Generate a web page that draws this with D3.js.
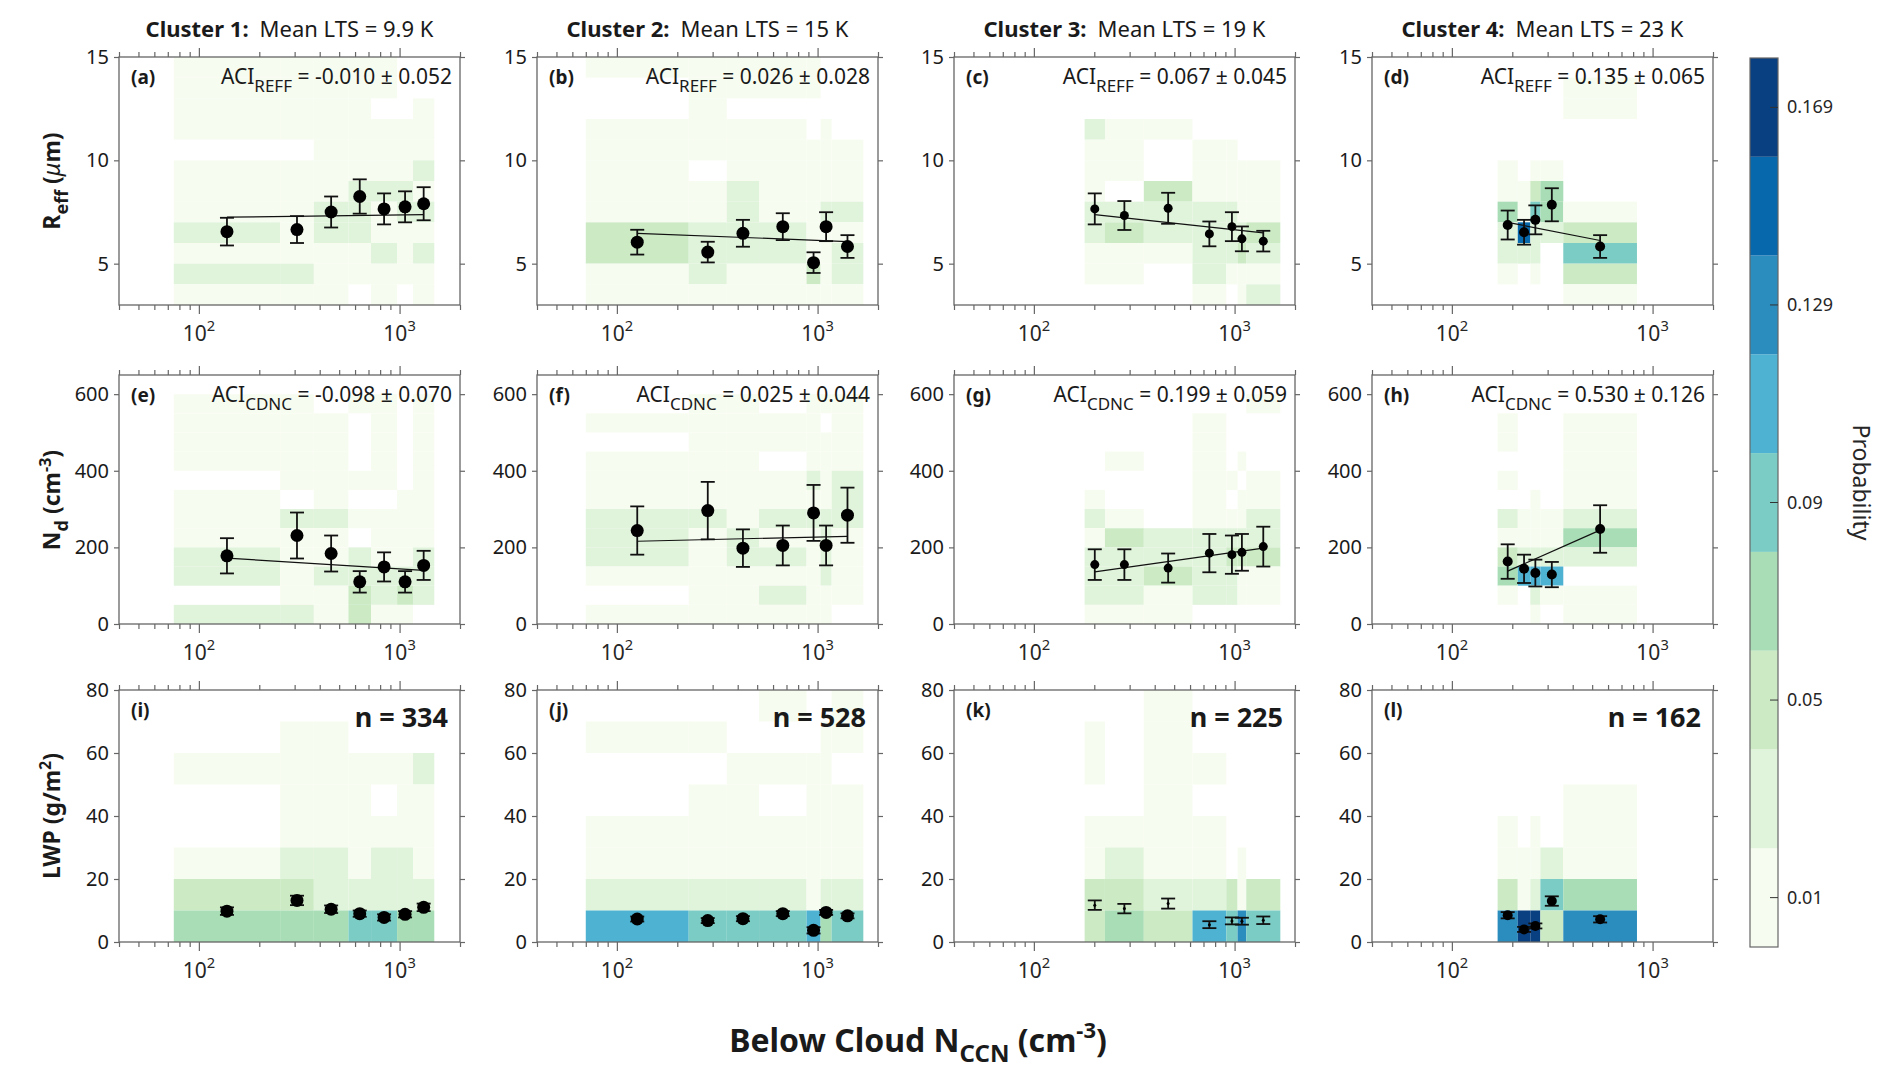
<!DOCTYPE html>
<html>
<head>
<meta charset="utf-8">
<script src="https://cdn.jsdelivr.net/npm/d3@7"></script>
<style>
body { margin: 0; background: #fff; }
text { font-family: "Noto Sans", "Open Sans", sans-serif; fill: #1a1a1a; }
</style>
</head>
<body>
<script>
// ---- data ----
const clusterNames = ["Cluster 1:", "Cluster 2:", "Cluster 3:", "Cluster 4:"]
const meanLTS = ["9.9 K", "15 K", "19 K", "23 K"]
const sampleN = [334, 528, 225, 162]
const aciReff = ["-0.010 \u00b1 0.052", "0.026 \u00b1 0.028", "0.067 \u00b1 0.045", "0.135 \u00b1 0.065"]
const aciCdnc = ["-0.098 \u00b1 0.070", "0.025 \u00b1 0.044", "0.199 \u00b1 0.059", "0.530 \u00b1 0.126"]
const panelLetters = ["a", "b", "c", "d", "e", "f", "g", "h", "i", "j", "k", "l"]

// NCCN bin edges per cluster (cm-3)
const binEdges = [
  [75, 254, 374, 556, 721, 972, 1167, 1489],
  [70, 228, 353, 511, 881, 1035, 1175, 1690],
  [179, 226, 353, 617, 909, 1035, 1143, 1690],
  [169, 213, 246, 276, 359, 836]
]

// probability levels (0..8 -> 0.01, 0.03, ... 0.17), '.' = no data; rows listed top to bottom
const reffGrid = [
  ["00000..", "00000..", "0000..0", "0000000", "..00000", "0000001", "0001110", "0011011", "1011000", "0000101", "1100000", "000.0.0"],
  ["00000..", ".0000..", ".0.....", "0000.0.", "0000000", "0.00000", "0010000", "0010011", "2111000", "2111001", "0100201", "0000000"],
  [".......", ".......", ".......", "100....", "00.00..", "00.0000", "0.20000", "1111100", "1211112", "0001121", "00.1000", "...0.01"],
  [".....", "....0", "....0", ".....", ".....", "0.00.", "0023.", "30430", "17112", "111.4", "0.0.2", "....0"]
]
const ndGrid = [
  ["00.00.0", "000.0.0", "000.0.0", "000.0.0", ".0000.0", "0.0..00", "0110000", "000.000", "1001001", "1011111", ".002121", "110200."],
  [".00.000", "00000.0", ".000000", "000.000", "0000101", "0000001", "1101111", "1010010", "1011010", "0000010", ".001000", "000000."],
  ["......0", "...0...", "...0...", ".0.0.0.", "...00.0", "0..0.00", "10.0001", "0211111", "1111222", "1121100", "1101100", "000...."],
  [".....", "0...0", "0...0", "....0", "0...0", "..0.0", "10001", "00003", "21111", "3555.", "0.100", "..0.0"]
]
const lwpGrid = [
  [".......", ".00....", "0000001", ".000.00", ".000000", "0110110", "2211111", "3334433"],
  ["...0..0", "00...00", "..0000.", ".00.000", "0000000", "0000000", "1111011", "5444534"],
  ["..0....", "0.0....", "0.00...", "..0....", "0000...", "0100.0.", "2211202", "2325464"],
  [".....", ".....", ".....", "....0", "0.0.0", "00010", "20143", "68826"]
]

// binned means, error half-widths and fit-line end values
const reffMean = [[6.55, 6.65, 7.5, 8.25, 7.65, 7.75, 7.9], [6.04, 5.56, 6.47, 6.79, 5.05, 6.79, 5.83], [7.65, 7.33, 7.68, 6.44, 6.79, 6.2, 6.09], [6.87, 6.52, 7.12, 7.85, 5.83]]
const reffErr = [[0.67, 0.65, 0.75, 0.83, 0.75, 0.75, 0.8], [0.6, 0.5, 0.65, 0.65, 0.5, 0.7, 0.55], [0.75, 0.7, 0.75, 0.6, 0.7, 0.6, 0.5], [0.7, 0.6, 0.7, 0.8, 0.55]]
const reffFit = [[7.25, 7.37], [6.47, 6.07], [7.37, 6.49], [7.0, 6.12]]
const ndMean = [[178, 231, 184, 110, 149, 110, 153], [244, 296, 198, 205, 290, 205, 284], [155, 155, 146, 185, 181, 187, 202], [163, 144, 133, 129, 248]]
const ndErr = [[46, 60, 47, 28, 38, 28, 38], [63, 75, 49, 52, 73, 52, 72], [40, 40, 38, 50, 50, 48, 52], [45, 37, 35, 33, 62]]
const ndFit = [[172, 140], [216, 229], [136, 198], [138, 245]]
const lwpMean = [[9.8, 13.2, 10.4, 9.0, 7.8, 8.8, 11.0], [7.3, 6.8, 7.4, 9.0, 3.7, 9.4, 8.3], [11.7, 10.6, 12.2, 5.5, 6.7, 6.6, 6.9], [8.5, 4.0, 5.1, 13, 7.2]]
const lwpErr = [[1.2, 1.5, 1.2, 1, 1, 1, 1.2], [0.8, 0.8, 0.8, 0.8, 1, 0.8, 0.8], [1.5, 1.5, 1.6, 1.1, 1.1, 1.1, 1.2], [1, 0.8, 0.8, 1.5, 1]]

const cbTicks = [0.01, 0.05, 0.09, 0.129, 0.169]
const gnbu = ["#f7fcf0", "#e0f3db", "#ccebc5", "#a8ddb5", "#7bccc4", "#4eb3d3", "#2b8cbe", "#0868ac", "#084081"]

// ---- layout ----
const W = 1892, H = 1091
const colX = [119, 537, 954, 1372], pw = 341
const rows = [
  { top: 57, bot: 305, dom: [3, 15], ticks: [5, 10, 15], bin: 1, grid: reffGrid, mean: reffMean, err: reffErr, fit: reffFit },
  { top: 375, bot: 624, dom: [0, 650], ticks: [0, 200, 400, 600], bin: 50, grid: ndGrid, mean: ndMean, err: ndErr, fit: ndFit },
  { top: 690, bot: 942, dom: [0, 80], ticks: [0, 20, 40, 60, 80], bin: 10, grid: lwpGrid, mean: lwpMean, err: lwpErr, fit: null }
]
const markerR = [6.5, 6.5, 4.5, 5]
const probColor = d3.scaleQuantize([0, 0.18], gnbu)
const axisCol = "#666"

const svg = d3.select("body").append("svg").attr("width", W).attr("height", H)

function supText(sel, base, sup) {
  sel.append("tspan").text(base)
  sel.append("tspan").attr("dy", -10).attr("font-size", "0.7em").text(sup)
}

rows.forEach((r, ri) => {
  colX.forEach((x0, ci) => {
    const x = d3.scaleLog([40, 2000], [x0, x0 + pw])
    const y = d3.scaleLinear(r.dom, [r.bot, r.top])
    const g = svg.append("g")
    const edges = binEdges[ci]
    const grid = r.grid[ci]
    const topVal = r.dom[0] + grid.length * r.bin
    grid.forEach((row, k) => {
      const hi = topVal - k * r.bin, lo = hi - r.bin
      row.split("").forEach((c, j) => {
        if (c === ".") return
        const p = +c * 0.02 + 0.01
        g.append("rect").attr("x", x(edges[j])).attr("width", x(edges[j + 1]) - x(edges[j]))
          .attr("y", y(hi)).attr("height", y(lo) - y(hi)).attr("fill", probColor(p))
      })
    })
    g.append("rect").attr("x", x0).attr("y", r.top).attr("width", pw).attr("height", r.bot - r.top)
      .attr("fill", "none").attr("stroke", axisCol).attr("stroke-width", 1.3)
    const xt = x.ticks().filter(v => v >= 40 && v <= 2000)
    const bottom = g.append("g").attr("transform", `translate(0,${r.bot})`)
      .call(d3.axisBottom(x).tickValues(xt).tickSize(5).tickFormat(""))
    const top = g.append("g").attr("transform", `translate(0,${r.top})`)
      .call(d3.axisTop(x).tickValues(xt).tickSize(5).tickFormat(""))
    ;[bottom, top].forEach(a => {
      a.select(".domain").remove()
      a.selectAll(".tick line").attr("stroke", axisCol).attr("stroke-width", 1.2)
        .attr("y2", d => (Math.log10(d) % 1 === 0 ? 9 : 5) * (a === top ? -1 : 1))
    })
    const left = g.append("g").attr("transform", `translate(${x0},0)`)
      .call(d3.axisLeft(y).tickValues(r.ticks).tickSize(5).tickPadding(5))
    const right = g.append("g").attr("transform", `translate(${x0 + pw},0)`)
      .call(d3.axisRight(y).tickValues(r.ticks).tickSize(5).tickFormat(""))
    ;[left, right].forEach(a => {
      a.select(".domain").remove()
      a.selectAll(".tick line").attr("stroke", axisCol).attr("stroke-width", 1.2)
    })
    left.selectAll(".tick text").attr("font-size", 20).attr("fill", "#262626").style("font-family", "Noto Sans")
    ;[100, 1000].forEach(v => {
      const t = g.append("text").attr("x", x(v)).attr("y", r.bot + 36).attr("text-anchor", "middle")
        .attr("font-size", 21).style("fill", "#262626")
      supText(t, "10", Math.log10(v))
    })
    const xc = edges.slice(1).map((e, j) => Math.sqrt(e * edges[j]))
    if (r.fit) {
      g.append("line").attr("x1", x(xc[0])).attr("x2", x(xc[xc.length - 1]))
        .attr("y1", y(r.fit[ci][0])).attr("y2", y(r.fit[ci][1])).attr("stroke", "#111").attr("stroke-width", 1.2)
    }
    const rad = ri === 2 && ci === 2 ? 1.5 : markerR[ci]
    r.mean[ci].forEach((m, j) => {
      const e = r.err[ci][j], cx = x(xc[j])
      g.append("line").attr("x1", cx).attr("x2", cx).attr("y1", y(m - e)).attr("y2", y(m + e)).attr("stroke", "#111").attr("stroke-width", 1.8)
      ;[m - e, m + e].forEach(v => g.append("line").attr("x1", cx - 7).attr("x2", cx + 7).attr("y1", y(v)).attr("y2", y(v)).attr("stroke", "#111").attr("stroke-width", 1.8))
      g.append("circle").attr("cx", cx).attr("cy", y(m)).attr("r", rad).attr("fill", "#000")
    })
    g.append("text").attr("x", x0 + 12).attr("y", r.top + 27).attr("font-size", 19).attr("font-weight", "bold")
      .text(`(${panelLetters[ri * 4 + ci]})`)
    if (ri < 2) {
      const t = g.append("text").attr("x", x0 + pw - 8).attr("y", r.top + 27).attr("text-anchor", "end").attr("font-size", 21)
      t.append("tspan").text("ACI")
      t.append("tspan").attr("dy", 8).attr("font-size", 17).text(ri === 0 ? "REFF" : "CDNC")
      t.append("tspan").attr("dy", -8).text(" = " + (ri === 0 ? aciReff[ci] : aciCdnc[ci]))
    } else {
      g.append("text").attr("x", x0 + pw - 12).attr("y", r.top + 37).attr("text-anchor", "end")
        .attr("font-size", 27).attr("font-weight", "bold").text("n = " + sampleN[ci])
    }
  })
})

colX.forEach((x0, ci) => {
  const t = svg.append("text").attr("x", x0 + pw / 2).attr("y", 37).attr("text-anchor", "middle").attr("font-size", 22)
  t.append("tspan").attr("font-weight", "bold").text(clusterNames[ci] + "\u2002")
  t.append("tspan").text("Mean LTS = " + meanLTS[ci])
})

function rowLabel(yc, parts) {
  const t = svg.append("text").attr("transform", `translate(60,${yc}) rotate(-90)`).attr("text-anchor", "middle")
    .attr("font-size", 23).attr("font-weight", "bold")
  parts.forEach(p => {
    const s = t.append("tspan").text(p[0])
    if (p[1]) s.attr("dy", p[1]).attr("font-size", p[2] || 23)
    if (p[3]) s.attr("font-style", "italic").attr("font-weight", "normal")
  })
}
rowLabel(181, [["R"], ["eff", 8, 18], [" (", -8], ["\u03bc", 0, 23, true], ["m)"]])
rowLabel(500, [["N"], ["d", 8, 18], [" (cm", -8], ["-3", -9, 16], [")", 9]])
rowLabel(816, [["LWP (g/m"], ["2", -9, 16], [")", 9]])

const xl = svg.append("text").attr("x", 918).attr("y", 1052).attr("text-anchor", "middle").attr("font-size", 32).attr("font-weight", "bold")
xl.append("tspan").text("Below Cloud N")
xl.append("tspan").attr("dy", 10).attr("font-size", 24).text("CCN")
xl.append("tspan").attr("dy", -10).text(" (cm")
xl.append("tspan").attr("dy", -14).attr("font-size", 22).text("-3")
xl.append("tspan").attr("dy", 14).text(")")

const cb = { x: 1750, w: 28, top: 58, bot: 947 }
const cy = d3.scaleLinear([0, 0.18], [cb.bot, cb.top])
gnbu.forEach((c, i) => {
  svg.append("rect").attr("x", cb.x).attr("width", cb.w).attr("y", cy((i + 1) * 0.02)).attr("height", cy(i * 0.02) - cy((i + 1) * 0.02)).attr("fill", c)
})
svg.append("rect").attr("x", cb.x).attr("y", cb.top).attr("width", cb.w).attr("height", cb.bot - cb.top).attr("fill", "none").attr("stroke", axisCol).attr("stroke-width", 1.2)
cbTicks.forEach((v, i) => {
  const yy = cy(0.01 + i * 0.04)
  svg.append("line").attr("x1", cb.x + cb.w - 8).attr("x2", cb.x + cb.w).attr("y1", yy).attr("y2", yy).attr("stroke", "#333")
  svg.append("text").attr("x", cb.x + cb.w + 9).attr("y", yy + 6).attr("font-size", 18).style("fill", "#262626").text(v)
})
svg.append("text").attr("transform", `translate(1853,${(cb.top + cb.bot) / 2 - 20}) rotate(90)`).attr("text-anchor", "middle")
  .attr("font-size", 23).style("fill", "#262626").text("Probability")
</script>
</body>
</html>
